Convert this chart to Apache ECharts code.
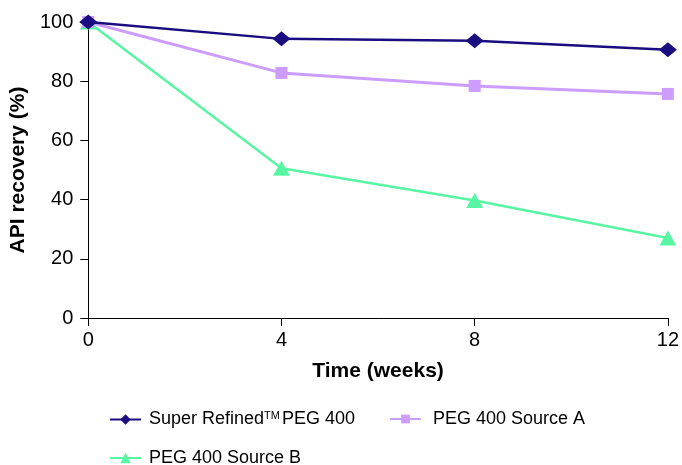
<!DOCTYPE html>
<html><head><meta charset="utf-8">
<script src="https://cdn.jsdelivr.net/npm/echarts@6/dist/echarts.min.js"></script>
<style>html,body{margin:0;padding:0;background:#fff}#c{width:682px;height:465px}</style>
</head><body><div id="c"></div>
<script>
const weeks = [0, 4, 8, 12];
const superRefined = [100, 94.3, 93.7, 90.6];
const sourceA = [100, 82.8, 78.4, 75.7];
const sourceB = [100, 50.6, 39.7, 27.0];
const seriesNames = ['Super Refined\u2122 PEG 400', 'PEG 400 Source A', 'PEG 400 Source B'];
const xTicks = [0, 4, 8, 12];
const yTicks = [0, 20, 40, 60, 80, 100];

const font = 'Liberation Sans, Arial, sans-serif';
const navy = '#1b0c80', lav = '#cc9cff', green = '#58f6a2';
const pairs = (ys) => weeks.map((w, i) => [w, ys[i]]);
const legText = {fontFamily: font, fontSize: 18, color: '#000', padding: [0, 0, 0, 3],
  rich: {sup: {fontFamily: font, fontSize: 11, color: '#000', verticalAlign: 'top', padding: [0, 2, 8, 0]},
         n: {fontFamily: font, fontSize: 18, color: '#000'}}};
const chart = echarts.init(document.getElementById('c'));
chart.setOption({
  animation: false,
  grid: {left: 86, right: 13, top: 22, bottom: 147},
  xAxis: {
    type: 'value', min: 0, max: 12, interval: 4,
    name: 'Time (weeks)', nameLocation: 'middle', nameGap: 43,
    nameTextStyle: {fontFamily: font, fontSize: 21, fontWeight: 'bold', color: '#000'},
    axisLine: {lineStyle: {color: '#000', width: 1}},
    axisTick: {show: true, length: 8, lineStyle: {color: '#000'}},
    axisLabel: {fontFamily: font, fontSize: 20, color: '#000', margin: 12},
    splitLine: {show: false}
  },
  yAxis: {
    type: 'value', min: 0, max: 100, interval: 20,
    name: 'API recovery (%)', nameLocation: 'middle', nameGap: 53,
    nameTextStyle: {fontFamily: font, fontSize: 21, fontWeight: 'bold', color: '#000'},
    axisLine: {show: true, lineStyle: {color: '#000', width: 1}},
    axisTick: {show: true, length: 8, lineStyle: {color: '#000'}},
    axisLabel: {fontFamily: font, fontSize: 20, color: '#000', margin: 15},
    splitLine: {show: false}
  },
  legend: [
    {data: [seriesNames[0]], left: 104, top: 405, itemWidth: 31, itemHeight: 13, textStyle: legText,
     formatter: () => '{n|Super Refined}{sup|TM}{n|PEG 400}'},
    {data: [seriesNames[1]], left: 384, top: 405, itemWidth: 31, itemHeight: 11,
     textStyle: Object.assign({}, legText, {padding: [0, 0, 0, 7]})},
    {data: [seriesNames[2]], left: 104, top: 444, itemWidth: 31, itemHeight: 13, textStyle: legText}
  ],
  series: [
    {name: seriesNames[2], type: 'line', data: pairs(sourceB), symbol: 'triangle', symbolSize: [17, 15],
     lineStyle: {color: green, width: 2.5}, itemStyle: {color: green}, z: 2},
    {name: seriesNames[1], type: 'line', data: pairs(sourceA), symbol: 'rect', symbolSize: 12,
     lineStyle: {color: lav, width: 3}, itemStyle: {color: lav}, z: 3},
    {name: seriesNames[0], type: 'line', data: pairs(superRefined), symbol: 'diamond', symbolSize: [18, 15],
     lineStyle: {color: navy, width: 2.5}, itemStyle: {color: navy}, z: 4}
  ]
});
</script></body></html>
